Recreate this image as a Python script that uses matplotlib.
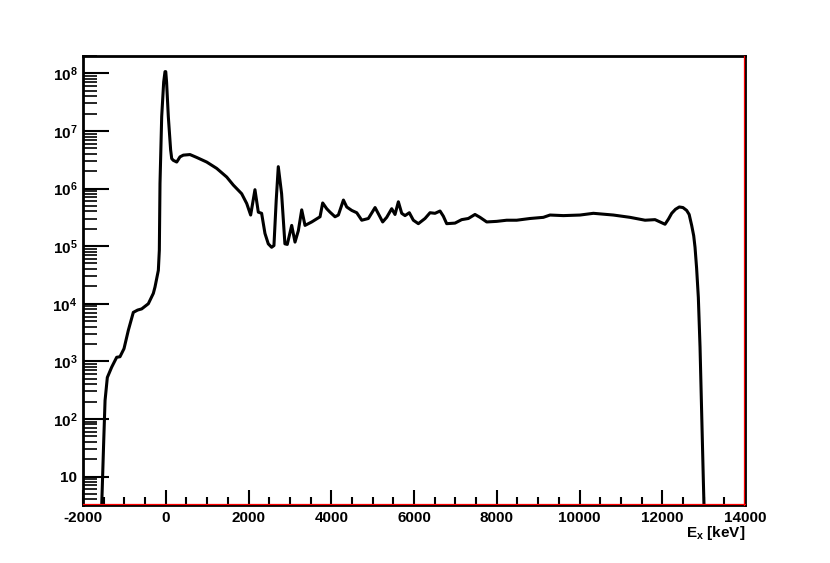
import numpy as np
import matplotlib
matplotlib.use('Agg')
import matplotlib.pyplot as plt
from matplotlib.ticker import MultipleLocator, LogLocator, FixedLocator, NullFormatter
import matplotlib.transforms as mtransforms

plt.rcParams['font.family'] = 'Liberation Sans'
plt.rcParams['font.weight'] = 'bold'
plt.rcParams['mathtext.fontset'] = 'custom'
plt.rcParams['mathtext.rm'] = 'Liberation Sans:bold'
plt.rcParams['mathtext.bf'] = 'Liberation Sans:bold'
plt.rcParams['mathtext.it'] = 'Liberation Sans:bold'

# excitation energy (keV) and log10(counts)
ex_kev = [-1548, -1500, -1467, -1412, -1306, -1186, -1106, -1009, -904, -784, -680,
          -582, -421, -300, -260, -179, -155, -139, -98, -50, -18, 0, 20, 62, 118,
          144, 182, 265, 344, 425, 586, 748, 990, 1231, 1473, 1633, 1835, 1957,
          2052, 2156, 2237, 2317, 2398, 2478, 2559, 2615, 2670, 2720, 2800, 2880,
          2937, 3044, 3124, 3205, 3286, 3366, 3528, 3729, 3793, 3890, 3970, 4091,
          4172, 4294, 4374, 4495, 4616, 4737, 4897, 5059, 5243, 5340, 5461, 5541,
          5622, 5703, 5783, 5887, 5984, 6105, 6266, 6387, 6508, 6629, 6709, 6790,
          6991, 7152, 7313, 7474, 7595, 7757, 7998, 8240, 8482, 8804, 9126, 9287,
          9610, 10013, 10335, 10818, 11221, 11584, 11825, 12067, 12150, 12228,
          12320, 12412, 12500, 12590, 12650, 12711, 12760, 12792, 12830, 12872,
          12913, 12953, 12993, 13009]
log_counts = [0.49, 1.6, 2.32, 2.72, 2.90, 3.07, 3.08, 3.22, 3.54, 3.85, 3.89,
              3.91, 4.00, 4.18, 4.29, 4.58, 4.93, 6.09, 7.25, 7.85, 8.03, 8.03, 7.85,
              7.25, 6.67, 6.52, 6.49, 6.46, 6.55, 6.58, 6.59, 6.54, 6.46, 6.35, 6.20,
              6.06, 5.91, 5.74, 5.54, 5.98, 5.59, 5.57, 5.22, 5.04, 4.98, 5.01, 5.8,
              6.38, 5.91, 5.04, 5.03, 5.36, 5.07, 5.27, 5.63, 5.36, 5.42, 5.51, 5.75,
              5.65, 5.59, 5.51, 5.54, 5.80, 5.68, 5.62, 5.58, 5.45, 5.48, 5.67, 5.42,
              5.50, 5.65, 5.55, 5.77, 5.57, 5.53, 5.58, 5.45, 5.39, 5.48, 5.58, 5.57,
              5.61, 5.52, 5.39, 5.40, 5.46, 5.48, 5.55, 5.50, 5.42, 5.43, 5.45, 5.45,
              5.48, 5.50, 5.54, 5.53, 5.54, 5.57, 5.54, 5.50, 5.45, 5.46, 5.38, 5.47,
              5.57, 5.64, 5.68, 5.67, 5.62, 5.55, 5.36, 5.18, 4.98, 4.62, 4.11,
              3.25, 2.09, 0.93, 0.49]

y_ticks = [10, 1e2, 1e3, 1e4, 1e5, 1e6, 1e7, 1e8]
y_labels = ['10', r'$10^{2}$', r'$10^{3}$', r'$10^{4}$', r'$10^{5}$', r'$10^{6}$',
            r'$10^{7}$', r'$10^{8}$']
x_ticks = [-2000, 0, 2000, 4000, 6000, 8000, 10000, 12000, 14000]

fig = plt.figure(figsize=(8.3, 5.63), dpi=100)
ax = fig.add_axes([0.1, 0.103, 0.7976, 0.7975])

ax.plot(ex_kev, 10 ** np.array(log_counts), color='black', lw=2.2,
        solid_joinstyle='round', zorder=3)

ax.set_yscale('log')
ax.set_xlim(-2000, 14000)
ax.set_ylim(3.2, 2.0e8)

ax.xaxis.set_major_locator(FixedLocator(x_ticks))
ax.xaxis.set_minor_locator(MultipleLocator(500))
ax.set_xticklabels([str(v) for v in x_ticks])
ax.yaxis.set_major_locator(FixedLocator(y_ticks))
ax.set_yticklabels(y_labels)
ax.yaxis.set_minor_locator(LogLocator(base=10, subs=np.arange(2, 10)))
ax.yaxis.set_minor_formatter(NullFormatter())

ax.tick_params(axis='x', which='major', direction='in', length=11, width=1.5,
               labelsize=11, pad=4, top=False)
ax.tick_params(axis='x', which='minor', direction='in', length=5.5, width=1.5, top=False)
ax.tick_params(axis='y', which='major', direction='in', length=19, width=1.5,
               labelsize=11, pad=4, right=False)
ax.tick_params(axis='y', which='minor', direction='in', length=10, width=1.2, right=False)

for s in ax.spines.values():
    s.set_linewidth(2)
    s.set_color('black')

# thin red inner lines along bottom and right edges
off_b = mtransforms.offset_copy(ax.transAxes, fig=fig, x=0, y=1.5, units='dots')
off_r = mtransforms.offset_copy(ax.transAxes, fig=fig, x=-1.5, y=0, units='dots')
ax.plot([0, 1], [0, 0], transform=off_b, color='red', lw=0.9, clip_on=False, zorder=5)
ax.plot([1, 1], [0, 1], transform=off_r, color='red', lw=0.9, clip_on=False, zorder=5)

fig.text(0.8976, 0.053, r'$\mathregular{E_{x}}$ [keV]', ha='right', va='center',
         fontsize=11, fontweight='bold')

plt.savefig('out.png', dpi=100)
